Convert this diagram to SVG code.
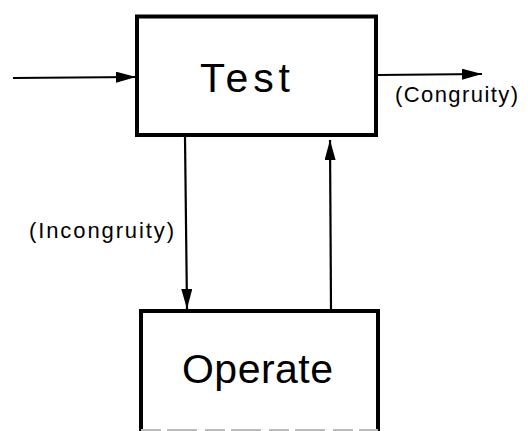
<svg xmlns="http://www.w3.org/2000/svg" width="528" height="431" viewBox="0 0 528 431">
<style>
.box{fill:#fff;stroke:#000;stroke-width:4}
.big{font-family:"Liberation Sans",Arial,sans-serif;font-size:41px;fill:#000}
.lbl{font-family:"Liberation Sans",Arial,sans-serif;font-size:22px;fill:#000}
.ln{stroke:#000;stroke-width:2.2;fill:none}
</style>
<defs>
<marker id="ah" markerWidth="20" markerHeight="11" refX="20" refY="5.5" orient="auto" markerUnits="userSpaceOnUse">
<path d="M0,0 L20,5.5 L0,11 Z" fill="#000"/>
</marker>
</defs>
<rect width="528" height="431" fill="#fff"/>
<g id="connectors">
<line class="ln" x1="13" y1="78" x2="136" y2="77" marker-end="url(#ah)"/>
<line class="ln" x1="378" y1="75" x2="482" y2="74" marker-end="url(#ah)"/>
<line class="ln" x1="185" y1="137" x2="187" y2="309" marker-end="url(#ah)"/>
<line class="ln" x1="331" y1="309" x2="330" y2="140" marker-end="url(#ah)"/>
<rect x="328" y="126" width="3" height="2" fill="#000"/>
</g>
<g id="test">
<rect class="box" x="137" y="16.5" width="239" height="118.5"/>
<text class="big" x="200" y="92" textLength="90" lengthAdjust="spacing">Test</text>
</g>
<g id="operate">
<path d="M141,431 V311 H378 V431" fill="#fff" stroke="#000" stroke-width="4"/>
<line x1="141" y1="430" x2="378" y2="430" stroke="#bbb" stroke-width="2" stroke-dasharray="20 6 30 8"/>
<text class="big" x="182" y="383" textLength="151" lengthAdjust="spacing">Operate</text>
</g>
<g id="labels">
<text class="lbl" x="395" y="102" textLength="123" lengthAdjust="spacing">(Congruity)</text>
<text class="lbl" x="29" y="238" textLength="145" lengthAdjust="spacing">(Incongruity)</text>
</g>
</svg>
